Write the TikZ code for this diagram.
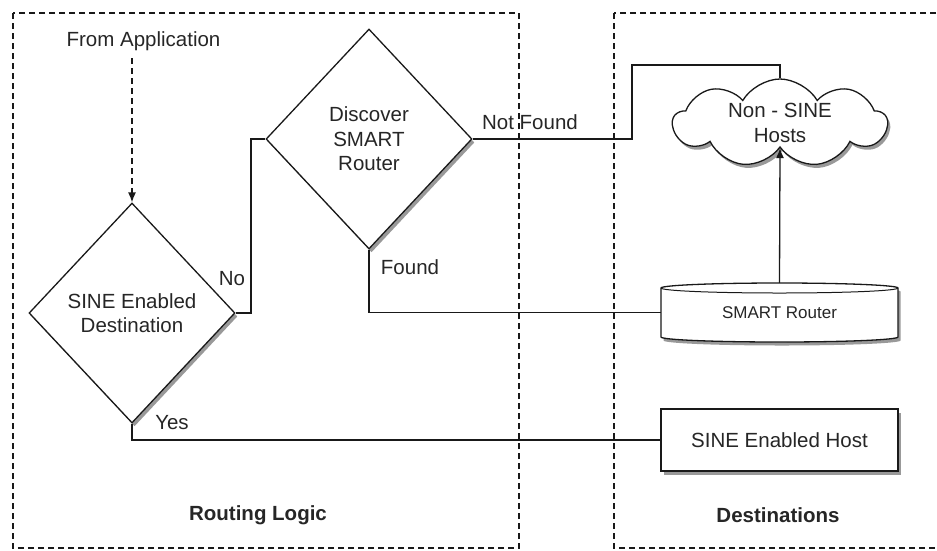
\documentclass[tikz,border=0pt]{standalone}
\usepackage{fontspec}
\setmainfont{Liberation Sans}
\usetikzlibrary{shapes.geometric,shapes.symbols,arrows.meta,shadows}
\begin{document}
\begin{tikzpicture}[x=1pt,y=-1pt,
  every node/.style={font=\fontsize{20.5}{24.5}\selectfont, text=black!85},
  region/.style={draw=black!90, line width=1.2pt, dash pattern=on 6pt off 4pt},
  shade/.style={drop shadow={shadow xshift=2.5pt, shadow yshift=-3.5pt, opacity=0.4, fill=black}},
  decision/.style={diamond, draw=black!90, line width=1.3pt, fill=white, minimum width=206pt, minimum height=220pt, inner sep=0pt, align=center, shade},
  box/.style={rectangle, draw=black!90, line width=1.3pt, fill=white, minimum width=237pt, minimum height=62pt, inner sep=0pt, shade},
  link/.style={draw=black!90, line width=1.3pt},
  lbl/.style={inner sep=0pt},
  tip/.style={-{Latex[length=10pt,width=8pt]}}
]
\useasboundingbox (0,0) rectangle (937,550);
% regions
\draw[region] (13,13) rectangle (519,548);
\draw[region] (614,13) rectangle (945,548);
\node[lbl, font=\fontsize{20.5}{24.5}\selectfont\bfseries] (rl) at (258,515) {Routing Logic};
\node[lbl, font=\fontsize{20.5}{24.5}\selectfont\bfseries] (dst) at (778,515) {Destinations};

% nodes
\node[lbl] (app) at (143.5,41) {From Application};
\coordinate (append) at (132,58);
\node[decision] (d1) at (132,313) {SINE Enabled\\Destination};
\node[decision] (d2) at (369,139) {Discover\\SMART\\Router};
\node[cloud, draw=black!90, line width=1.3pt, fill=white, cloud puffs=9, cloud puff arc=120, aspect=2.4, minimum width=214pt, minimum height=88pt, inner sep=0pt, align=center, shade] (cloud) at (780,123) {Non - SINE\\Hosts};

% cylinder (SMART Router)
\fill[black, opacity=0.4, shift={(2.5pt,-3.5pt)}] (661,288) -- (661,337) arc(180:360:118.5pt and 5pt) -- (898,288) arc(0:180:118.5pt and 5pt) -- cycle;
\draw[link, fill=white] (661,288) -- (661,337) arc(180:360:118.5pt and 5pt) -- (898,288) arc(0:180:118.5pt and 5pt) -- cycle;
\draw[link, line width=1pt] (661,288) arc(180:360:118.5pt and 5pt);
\node[lbl, minimum width=237pt, minimum height=59pt, font=\fontsize{17}{20}\selectfont] (smart) at (779.5,312.5) {SMART Router};

\node[box] (host) at (779.5,440) {SINE Enabled Host};

% connectors
\draw[link, dash pattern=on 6pt off 4pt, tip] (append) -- (d1.north);
\coordinate (nc) at (251,139);
\draw[link] (d1.east) -| (nc) -- (d2.west);
\coordinate (nf) at (632,65);
\draw[link] (d2.east) -| (nf) -| (cloud.north);
\draw[link] (d2.south) |- (smart.west);
\draw[link] (d1.south) |- (host.west);
\draw[link, tip] (smart.north) -- (cloud.south);

% labels
\node[lbl] (lno) at (232,279) {No};
\node[lbl] (lyes) at (172,423) {Yes};
\node[lbl] (lfound) at (410,267) {Found};
\node[lbl] (lnf) at (530,122) {Not Found};
\end{tikzpicture}
\end{document}
